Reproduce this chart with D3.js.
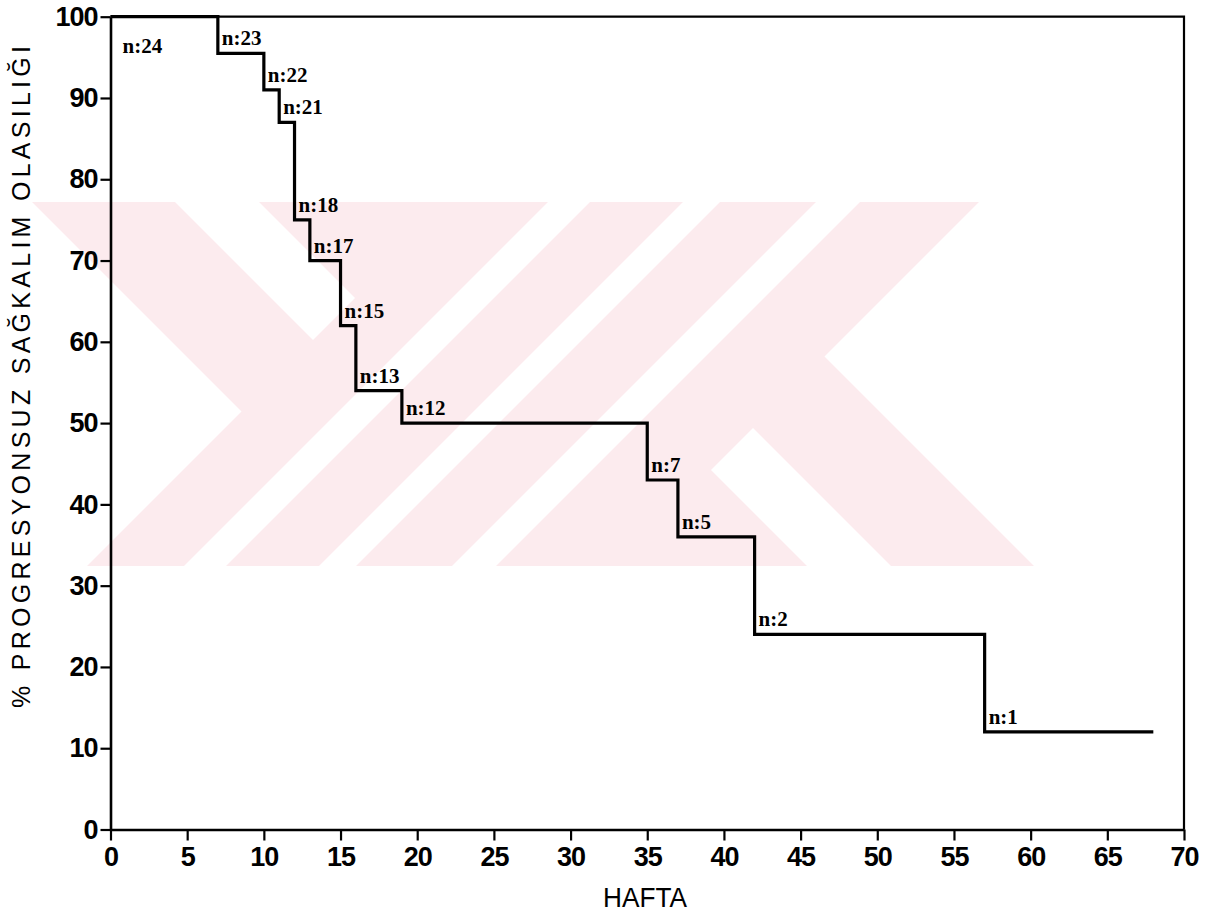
<!DOCTYPE html>
<html>
<head>
<meta charset="utf-8">
<script src="https://cdn.jsdelivr.net/npm/d3@7/dist/d3.min.js"></script>
<style>
  html, body { margin: 0; padding: 0; background: #fff; }
  svg { display: block; }
</style>
</head>
<body>
<svg id="chart" width="1217" height="912"></svg>
<script>
// ---- data ----
const weeks    = [0, 7, 10, 11, 12, 13, 15, 16, 19, 35, 37, 42, 57, 68];
const survival = [100, 95.5, 91, 87, 75, 70, 62, 54, 50, 43, 36, 24, 12, 12];
const atRisk   = ["n:24", "n:23", "n:22", "n:21", "n:18", "n:17", "n:15", "n:13", "n:12", "n:7", "n:5", "n:2", "n:1"];
const xTicks   = [0, 5, 10, 15, 20, 25, 30, 35, 40, 45, 50, 55, 60, 65, 70];
const yTicks   = [0, 10, 20, 30, 40, 50, 60, 70, 80, 90, 100];
const xTitle   = "HAFTA";
const yTitle   = "% PROGRESYONSUZ SAĞKALIM OLASILIĞI";

// ---- layout ----
const svg = d3.select("#chart");
const x = d3.scaleLinear().domain([0, 70]).range([110.5, 1184]);
const y = d3.scaleLinear().domain([0, 100]).range([829.5, 16.7]);

// ---- background watermark (decorative) ----
const band = { top: 202, bottom: 566, left: 0, right: 1217 };
const pink = "#fcebee";
const defs = svg.append("defs");
const mask = defs.append("mask").attr("id", "wm");
mask.append("rect").attr("x", 0).attr("y", 0).attr("width", 1217).attr("height", 912).attr("fill", "#fff");
// helper: points on diagonal lines  (d = X - Y, s = X + Y)
const onD = (d, Y) => [d + Y, Y];
const onS = (s, Y) => [s - Y, Y];
const cross = (d, s) => [(d + s) / 2, (s - d) / 2];
const T = band.top, B = band.bottom;
const holes = [
  [[0, T], onD(-170, T), cross(-170, 653), onS(653, B), [0, B]],
  [[1217, T], onS(1181, T), cross(468, 1181), onD(468, B), [1217, B]],
  [onD(-27, T), onD(57, T), cross(57, 653), cross(-27, 653)],
  [cross(325, 1181), onD(325, B), onD(241, B), cross(241, 1181)],
  [onS(750, T), onS(792, T), onS(792, B), onS(750, B)],
  [onS(885, T), onS(922, T), onS(922, B), onS(885, B)],
  [onS(1018, T), onS(1062, T), onS(1062, B), onS(1018, B)]
];
holes.forEach(p => mask.append("polygon").attr("points", p.map(q => q.join(",")).join(" ")).attr("fill", "#000"));
svg.append("rect")
  .attr("x", band.left).attr("y", band.top)
  .attr("width", band.right - band.left).attr("height", band.bottom - band.top)
  .attr("fill", pink).attr("mask", "url(#wm)");

// ---- axes ----
const tickFont = "'Liberation Sans', Arial, sans-serif";
const yAxis = svg.append("g")
  .attr("transform", `translate(${x(0)},0)`)
  .call(d3.axisLeft(y).tickValues(yTicks).tickSize(10).tickSizeOuter(0).tickPadding(3).tickFormat(d3.format("d")));
const xAxis = svg.append("g")
  .attr("transform", `translate(0,${y(0)})`)
  .call(d3.axisBottom(x).tickValues(xTicks).tickSize(11).tickSizeOuter(0).tickPadding(6).tickFormat(d3.format("d")));

[yAxis, xAxis].forEach(g => {
  g.select(".domain").attr("stroke", "#000").attr("stroke-width", 2.6);
  g.selectAll(".tick line").attr("stroke", "#000").attr("stroke-width", 2.2);
  g.selectAll(".tick text")
    .attr("fill", "#000")
    .style("font-family", tickFont)
    .style("font-weight", "bold")
    .style("font-size", "27px")
    .style("letter-spacing", "-1px");
});

// frame (top and right)
svg.append("path")
  .attr("d", d3.line()([[x(0), y(100)], [x(70), y(100)], [x(70), y(0)]]))
  .attr("fill", "none").attr("stroke", "#000").attr("stroke-width", 2.2);

// ---- survival step curve ----
const pts = weeks.map((w, i) => [w, survival[i]]);
svg.append("path")
  .datum(pts)
  .attr("d", d3.line().x(d => x(d[0])).y(d => y(d[1])).curve(d3.curveStepAfter))
  .attr("fill", "none")
  .attr("stroke", "#000")
  .attr("stroke-width", 3.2)
  .attr("stroke-linejoin", "miter");

// ---- at-risk labels ----
svg.append("g")
  .selectAll("text")
  .data(atRisk)
  .join("text")
  .attr("x", (d, i) => i === 0 ? x(weeks[0]) + 12 : x(weeks[i]) + 4)
  .attr("y", (d, i) => i === 0 ? y(survival[0]) + 36 : y(survival[i]) - 8)
  .style("font-family", "'Liberation Serif', 'Times New Roman', serif")
  .style("font-weight", "bold")
  .style("font-size", "21px")
  .attr("fill", "#000")
  .text(d => d);

// ---- axis titles ----
svg.append("text")
  .attr("x", 645).attr("y", 907)
  .attr("text-anchor", "middle")
  .attr("textLength", 84).attr("lengthAdjust", "spacingAndGlyphs")
  .style("font-family", tickFont)
  .style("font-size", "27px")
  .attr("fill", "#000")
  .text(xTitle);

svg.append("text")
  .attr("transform", "translate(30,377) rotate(-90)")
  .attr("text-anchor", "middle")
  .attr("textLength", 662).attr("lengthAdjust", "spacing")
  .style("font-family", tickFont)
  .style("font-size", "25px")
  .attr("fill", "#000")
  .text(yTitle);
</script>
</body>
</html>
